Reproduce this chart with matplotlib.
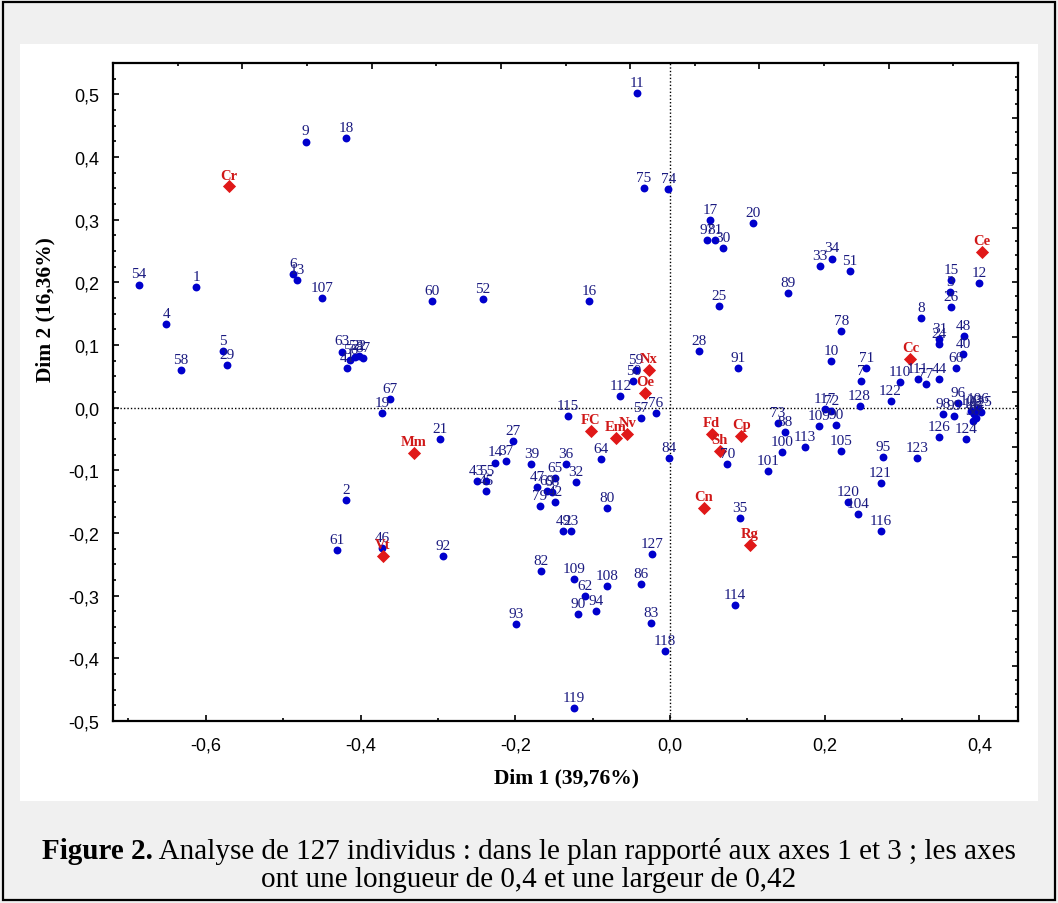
import matplotlib
matplotlib.use("Agg")
import matplotlib.pyplot as plt
from matplotlib.ticker import MultipleLocator, FuncFormatter, NullFormatter
from matplotlib.patches import Rectangle

plt.rcParams['axes.unicode_minus'] = False

# individuals (blue points)
ind_labels = ['9', '18', '54', '1', '6', '13', '107', '4', '58', '5', '29',
              '63', '41', '56', '53', '22', '87', '67', '19', '2', '61', '46',
              '11', '75', '74', '60', '52', '16',
              '17', '97', '81', '30', '20', '33', '34', '51', '89', '25', '12', '15', '3', '26', '8',
              '21', '27', '14', '37', '43', '55', '45', '39', '36', '65', '32', '47',
              '69', '68', '42', '79', '49', '23', '80', '64', '115', '112', '59', '50', '57', '76', '84',
              '28', '91', '78', '10', '71', '7', '110', '111', '77', '44', '31', '24', '48', '40', '66',
              '122', '128', '96', '98', '99', '103', '102', '106', '125', '85', '38',
              '126', '124', '123', '95', '121', '120', '104', '116', '105', '109', '90', '117', '72',
              '113', '73', '88', '100', '101', '70', '35',
              '92', '127', '82', '109', '62', '108', '86', '90', '94', '93', '83', '118', '119', '114']
ind_x = [-0.471, -0.419, -0.687, -0.6125, -0.487, -0.482, -0.450, -0.651, -0.632, -0.578, -0.572,
         -0.4237, -0.417, -0.413, -0.4065, -0.402, -0.397, -0.362, -0.372, -0.419, -0.431, -0.372,
         -0.042, -0.0335, -0.002, -0.308, -0.2417, -0.1045,
         0.0516, 0.048, 0.0585, 0.0688, 0.108, 0.194, 0.209, 0.2327, 0.1527, 0.0632, 0.400, 0.3634, 0.362, 0.3634, 0.3247,
         -0.2976, -0.203, -0.226, -0.2116, -0.250, -0.2374, -0.2374, -0.179, -0.1346, -0.148, -0.1213, -0.172,
         -0.159, -0.1527, -0.148, -0.1686, -0.1376, -0.1277, -0.081, -0.0895, -0.132, -0.064, -0.0439, -0.0473, -0.0378, -0.0185, -0.001,
         0.0374, 0.0886, 0.2215, 0.2086, 0.2538, 0.2473, 0.2976, 0.3204, 0.3312, 0.3484, 0.3484, 0.3484, 0.3798, 0.379, 0.3695,
         0.2852, 0.2452, 0.372, 0.3527, 0.3677, 0.389, 0.3935, 0.398, 0.402, 0.3957, 0.3914,
         0.3484, 0.3828, 0.320, 0.2753, 0.2723, 0.230, 0.243, 0.2723, 0.2215, 0.1923, 0.215, 0.200, 0.2086,
         0.1742, 0.1398, 0.1484, 0.145, 0.1273, 0.0744, 0.0907,
         -0.2933, -0.0228, -0.1665, -0.1239, -0.1093, -0.0809, -0.0378, -0.1191, -0.0955, -0.1987, -0.0249, -0.006, -0.1239, 0.0843]
ind_y = [0.4245, 0.430, 0.1965, 0.193, 0.213, 0.204, 0.175, 0.133, 0.060, 0.090, 0.068,
         0.0896, 0.063, 0.0762, 0.0816, 0.0826, 0.0785, 0.0136, -0.0088, -0.147, -0.2268, -0.2246,
         0.5016, 0.3506, 0.3485, 0.170, 0.173, 0.170,
         0.299, 0.267, 0.267, 0.255, 0.295, 0.2257, 0.238, 0.2177, 0.1826, 0.1624, 0.1986, 0.204, 0.185, 0.160, 0.1427,
         -0.0502, -0.053, -0.0875, -0.0858, -0.117, -0.117, -0.1327, -0.090, -0.090, -0.1124, -0.1193, -0.1273,
         -0.1327, -0.1353, -0.1513, -0.1566, -0.1965, -0.1965, -0.160, -0.0827, -0.0136, 0.0183, 0.0598, 0.0428, -0.0162, -0.0093, -0.080,
         0.0901, 0.063, 0.122, 0.0742, 0.0635, 0.0428, 0.0402, 0.0455, 0.037, 0.0455, 0.109, 0.101, 0.1145, 0.0853, 0.063,
         0.0109, 0.0029, 0.0072, -0.0104, -0.013, -0.005, -0.0104, -0.0024, -0.0077, -0.0157, -0.021,
         -0.0476, -0.0502, -0.080, -0.0795, -0.120, -0.1513, -0.170, -0.1965, -0.0694, -0.030, -0.0274, -0.002, -0.005,
         -0.0635, -0.0247, -0.0396, -0.0715, -0.1013, -0.090, -0.1762,
         -0.2363, -0.2337, -0.2608, -0.274, -0.301, -0.2847, -0.2815, -0.330, -0.3246, -0.3458, -0.3432, -0.389, -0.4788, -0.3145]

# supplementary variables (red diamonds)
sup_labels = ['Cr', 'Ce', 'Cc', 'Mm', 'Vt', 'FC', 'Em', 'Nv', 'Nx', 'Oe', 'Fd', 'Cp', 'Sh', 'Cn', 'Rg']
sup_x = [-0.570, 0.4035, 0.311, -0.331, -0.371, -0.1024, -0.070, -0.055, -0.0271, -0.0323, 0.0538, 0.0925, 0.0645, 0.0439, 0.1032]
sup_y = [0.353, 0.249, 0.0774, -0.0726, -0.2363, -0.037, -0.0487, -0.0423, 0.0603, 0.0231, -0.0423, -0.045, -0.0689, -0.160, -0.2193]

W, H = 1058, 904
fig = plt.figure(figsize=(W / 100, H / 100), dpi=100, facecolor='#f0f0f0')

# white panel and outer frame
fig.patches.append(Rectangle((20 / W, 1 - 802 / H), 1018 / W, 757 / H, transform=fig.transFigure,
                             facecolor='white', edgecolor='none', zorder=-5))
fig.patches.append(Rectangle((3 / W, 3 / H), (W - 6) / W, (H - 6) / H, transform=fig.transFigure,
                             facecolor='none', edgecolor='black', lw=1.6, zorder=-4))

pos = [113 / W, 1 - 722 / H, (1018 - 113) / W, (722 - 64) / H]
ax = fig.add_axes(pos)
ax.set_xlim(-0.72, 0.45)
ax.set_ylim(-0.5, 0.55)

ax.axhline(0, color='black', lw=1, ls=(0, (1, 1.5)), zorder=1)
ax.axvline(0, color='black', lw=1, ls=(0, (1, 1.5)), zorder=1)

ax.scatter(ind_x, ind_y, s=32, color='#0000cc', zorder=3, linewidths=0)
ax.scatter(sup_x, sup_y, s=45, marker='D', color='#e01818', zorder=4, linewidths=0)

for lbl, x, y in zip(ind_labels, ind_x, ind_y):
    ax.annotate(lbl, (x, y), xytext=(0, 3), textcoords='offset points',
                ha='center', va='bottom', fontsize=11, family='Liberation Serif',
                color='#1a1a80', zorder=5)
for lbl, x, y in zip(sup_labels, sup_x, sup_y):
    ax.annotate(lbl, (x, y), xytext=(0, 3.5), textcoords='offset points',
                ha='center', va='bottom', fontsize=10.5, family='Liberation Serif',
                fontweight='bold', color='#d01818', zorder=6)

fmt = FuncFormatter(lambda v, _: f"{v:.1f}".replace('.', ','))
ax.xaxis.set_major_locator(MultipleLocator(0.2))
ax.xaxis.set_minor_locator(MultipleLocator(0.1))
ax.yaxis.set_major_locator(MultipleLocator(0.1))
ax.yaxis.set_minor_locator(MultipleLocator(0.025))
ax.xaxis.set_major_formatter(fmt)
ax.yaxis.set_major_formatter(fmt)
ax.tick_params(which='both', direction='in', top=False, right=False, width=1.2)
ax.tick_params(which='major', length=4.5, labelsize=13)
ax.tick_params(which='minor', length=2.5)
ax.tick_params(axis='x', pad=11)
ax.tick_params(axis='y', pad=10)
for lab in ax.get_xticklabels() + ax.get_yticklabels():
    lab.set_family('Liberation Sans')
for sp in ax.spines.values():
    sp.set_linewidth(1.6)

# top and right axes carry their own tick spacing
ax2 = fig.add_axes(pos, frameon=False)
ax2.set_xlim(0, 7)
ax2.set_ylim(0, 12)
ax2.patch.set_visible(False)
ax2.xaxis.tick_top()
ax2.yaxis.tick_right()
ax2.xaxis.set_major_locator(MultipleLocator(1))
ax2.xaxis.set_minor_locator(MultipleLocator(0.5))
ax2.yaxis.set_major_locator(MultipleLocator(1))
ax2.yaxis.set_minor_locator(MultipleLocator(0.25))
ax2.xaxis.set_major_formatter(NullFormatter())
ax2.yaxis.set_major_formatter(NullFormatter())
ax2.tick_params(which='both', direction='in', width=1.2)
ax2.tick_params(which='major', length=4.5)
ax2.tick_params(which='minor', length=2.5)

fig.text(566 / W, 1 - 778 / H, 'Dim 1 (39,76%)', ha='center', va='center',
         fontsize=15.5, fontweight='bold', family='Liberation Serif')
fig.text(45 / W, 1 - 310 / H, 'Dim 2 (16,36%)', ha='center', va='center', rotation=90,
         fontsize=15.5, fontweight='bold', family='Liberation Serif')

# caption: bold lead-in followed by regular text, centred as one line
fig.canvas.draw()
r = fig.canvas.get_renderer()
t1 = fig.text(0, 1 - 852 / H, 'Figure 2.', fontsize=21, fontweight='bold',
              family='Liberation Serif', va='center')
t2 = fig.text(0, 1 - 852 / H, ' Analyse de 127 individus : dans le plan rapporté aux axes 1 et 3 ; les axes',
              fontsize=21, family='Liberation Serif', va='center')
w1 = t1.get_window_extent(r).width
w2 = t2.get_window_extent(r).width
x0 = (W / 2 - (w1 + w2) / 2)
t1.set_x(x0 / W)
t2.set_x((x0 + w1) / W)
fig.text(0.5, 1 - 880 / H, 'ont une longueur de 0,4 et une largeur de 0,42', fontsize=21,
         family='Liberation Serif', ha='center', va='center')

fig.savefig('out.png', dpi=100, facecolor=fig.get_facecolor())
